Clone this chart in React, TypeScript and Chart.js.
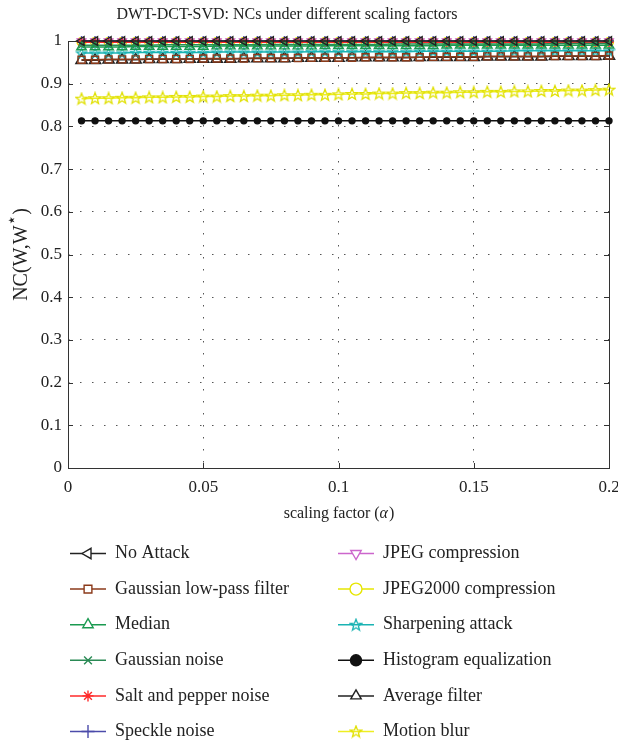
import React, { useEffect, useRef } from 'react';
import { Chart, registerables } from 'chart.js';
import { drawPoint } from 'chart.js/helpers';

Chart.register(...registerables);

const FONT = '"Liberation Serif", "DejaVu Serif", serif';

const chartTitle = 'DWT-DCT-SVD: NCs under different scaling factors';
const xTickValues = [0, 0.05, 0.1, 0.15, 0.2];
const yTickValues = [0, 0.1, 0.2, 0.3, 0.4, 0.5, 0.6, 0.7, 0.8, 0.9, 1];

const alphas = [
  0.005, 0.01, 0.015, 0.02, 0.025, 0.03, 0.035, 0.04, 0.045, 0.05,
  0.055, 0.06, 0.065, 0.07, 0.075, 0.08, 0.085, 0.09, 0.095, 0.1,
  0.105, 0.11, 0.115, 0.12, 0.125, 0.13, 0.135, 0.14, 0.145, 0.15,
  0.155, 0.16, 0.165, 0.17, 0.175, 0.18, 0.185, 0.19, 0.195, 0.2,
];

const noAttack = [
  1, 1, 1, 1, 1, 1, 1, 1, 1, 1, 1, 1, 1, 1, 1, 1, 1, 1, 1, 1,
  1, 1, 1, 1, 1, 1, 1, 1, 1, 1, 1, 1, 1, 1, 1, 1, 1, 1, 1, 1,
];
const gaussianLowPass = [
  0.956, 0.956, 0.957, 0.957, 0.957, 0.958, 0.958, 0.958, 0.958, 0.959,
  0.959, 0.959, 0.959, 0.96, 0.96, 0.96, 0.96, 0.961, 0.961, 0.961,
  0.961, 0.962, 0.962, 0.962, 0.962, 0.962, 0.963, 0.963, 0.963, 0.963,
  0.964, 0.964, 0.964, 0.964, 0.964, 0.965, 0.965, 0.965, 0.965, 0.966,
];
const median = [
  0.986, 0.986, 0.986, 0.986, 0.987, 0.987, 0.987, 0.987, 0.987, 0.987,
  0.988, 0.988, 0.988, 0.988, 0.988, 0.988, 0.988, 0.988, 0.989, 0.989,
  0.989, 0.989, 0.989, 0.989, 0.989, 0.989, 0.989, 0.99, 0.99, 0.99,
  0.99, 0.99, 0.99, 0.99, 0.99, 0.99, 0.99, 0.99, 0.99, 0.99,
];
const gaussianNoise = [
  0.99, 0.99, 0.99, 0.99, 0.99, 0.99, 0.991, 0.991, 0.991, 0.991,
  0.991, 0.991, 0.991, 0.991, 0.992, 0.992, 0.992, 0.992, 0.992, 0.992,
  0.992, 0.992, 0.992, 0.993, 0.993, 0.993, 0.993, 0.993, 0.993, 0.993,
  0.993, 0.993, 0.993, 0.993, 0.993, 0.994, 0.994, 0.994, 0.994, 0.994,
];
const saltPepper = [
  0.997, 0.997, 0.997, 0.997, 0.997, 0.997, 0.997, 0.997, 0.997, 0.997,
  0.997, 0.997, 0.997, 0.997, 0.997, 0.997, 0.997, 0.997, 0.997, 0.997,
  0.997, 0.997, 0.997, 0.997, 0.997, 0.997, 0.997, 0.997, 0.997, 0.997,
  0.997, 0.997, 0.997, 0.997, 0.997, 0.997, 0.997, 0.997, 0.997, 0.997,
];
const speckle = [
  1, 1, 1, 1, 1, 1, 1, 1, 1, 1, 1, 1, 1, 1, 1, 1, 1, 1, 1, 1,
  1, 1, 1, 1, 1, 1, 1, 1, 1, 1, 1, 1, 1, 1, 1, 1, 1, 1, 1, 1,
];
const jpeg = [
  0.999, 0.999, 0.999, 0.999, 0.999, 0.999, 0.999, 0.999, 0.999, 0.999,
  0.999, 0.999, 0.999, 0.999, 0.999, 0.999, 0.999, 0.999, 0.999, 0.999,
  0.999, 0.999, 0.999, 0.999, 0.999, 0.999, 0.999, 0.999, 0.999, 0.999,
  0.999, 0.999, 0.999, 0.999, 0.999, 0.999, 0.999, 0.999, 0.999, 0.999,
];
const jpeg2000 = [
  0.998, 0.998, 0.998, 0.998, 0.998, 0.998, 0.998, 0.998, 0.998, 0.998,
  0.998, 0.998, 0.998, 0.998, 0.998, 0.998, 0.998, 0.998, 0.998, 0.998,
  0.998, 0.998, 0.998, 0.998, 0.998, 0.998, 0.998, 0.998, 0.998, 0.998,
  0.998, 0.998, 0.998, 0.998, 0.998, 0.998, 0.998, 0.998, 0.998, 0.998,
];
const sharpening = [
  0.972, 0.972, 0.972, 0.972, 0.973, 0.973, 0.973, 0.973, 0.973, 0.973,
  0.974, 0.974, 0.974, 0.974, 0.974, 0.974, 0.974, 0.975, 0.975, 0.975,
  0.975, 0.975, 0.975, 0.975, 0.975, 0.976, 0.976, 0.976, 0.976, 0.976,
  0.976, 0.976, 0.977, 0.977, 0.977, 0.977, 0.977, 0.977, 0.977, 0.977,
];
const histogramEq = [
  0.813, 0.813, 0.813, 0.813, 0.813, 0.813, 0.813, 0.813, 0.813, 0.813,
  0.813, 0.813, 0.813, 0.813, 0.813, 0.813, 0.813, 0.813, 0.813, 0.813,
  0.813, 0.813, 0.813, 0.813, 0.813, 0.813, 0.813, 0.813, 0.813, 0.813,
  0.813, 0.813, 0.813, 0.813, 0.813, 0.813, 0.813, 0.813, 0.813, 0.813,
];
const averageFilter = [
  0.955, 0.955, 0.956, 0.956, 0.956, 0.957, 0.957, 0.957, 0.958, 0.958,
  0.958, 0.958, 0.959, 0.959, 0.959, 0.959, 0.96, 0.96, 0.96, 0.96,
  0.961, 0.961, 0.961, 0.961, 0.961, 0.962, 0.962, 0.962, 0.962, 0.962,
  0.963, 0.963, 0.963, 0.963, 0.963, 0.964, 0.964, 0.964, 0.964, 0.965,
];
const motionBlur = [
  0.865, 0.866, 0.866, 0.867, 0.867, 0.868, 0.868, 0.869, 0.869, 0.87,
  0.87, 0.871, 0.871, 0.872, 0.872, 0.873, 0.873, 0.874, 0.874, 0.875,
  0.876, 0.876, 0.877, 0.877, 0.878, 0.878, 0.879, 0.879, 0.88, 0.88,
  0.881, 0.881, 0.882, 0.882, 0.883, 0.883, 0.884, 0.884, 0.885, 0.886,
];

const seriesNames = [
  'No Attack', 'Gaussian low-pass filter', 'Median', 'Gaussian noise',
  'Salt and pepper noise', 'Speckle noise', 'JPEG compression', 'JPEG2000 compression',
  'Sharpening attack', 'Histogram equalization', 'Average filter', 'Motion blur',
];
const seriesValues = [
  noAttack, gaussianLowPass, median, gaussianNoise, saltPepper, speckle,
  jpeg, jpeg2000, sharpening, histogramEq, averageFilter, motionBlur,
];
const seriesColors = [
  '#222222', '#8b3a1a', '#1a9a50', '#2a8a55', '#ff2a2a', '#4b4baa',
  '#cc66cc', '#e6e600', '#1ab3b3', '#111111', '#222222', '#eeee22',
];

function makePentagram(color: string, size: number): HTMLCanvasElement {
  const c = document.createElement('canvas');
  c.width = size;
  c.height = size;
  const g = c.getContext('2d')!;
  const cx = size / 2, cy = size / 2 + 0.5;
  const R = size / 2 - 1, r = R * 0.42;
  g.beginPath();
  for (let k = 0; k < 10; k++) {
    const ang = -Math.PI / 2 + (k * Math.PI) / 5;
    const rad = k % 2 === 0 ? R : r;
    const px = cx + rad * Math.cos(ang), py = cy + rad * Math.sin(ang);
    if (k === 0) g.moveTo(px, py); else g.lineTo(px, py);
  }
  g.closePath();
  g.strokeStyle = color;
  g.lineWidth = 1.3;
  g.stroke();
  return c;
}

export default function App() {
  const ref = useRef<HTMLCanvasElement | null>(null);

  useEffect(() => {
    document.body.style.margin = '0';
    const canvas = ref.current!;

    const starSharp = makePentagram(seriesColors[8], 13);
    const starMotion = makePentagram('#e0e000', 14);
    const starSharpL = makePentagram(seriesColors[8], 14);
    const starMotionL = makePentagram('#e0e000', 14);
    const pointStyles: any[] = [
      'triangle', 'rect', 'triangle', 'crossRot', 'star', 'cross',
      'triangle', 'circle', starSharp, 'circle', 'triangle', starMotion,
    ];
    const legendStyles: any[] = [
      'triangle', 'rect', 'triangle', 'crossRot', 'star', 'cross',
      'triangle', 'circle', starSharpL, 'circle', 'triangle', starMotionL,
    ];
    const rotations = [270, 0, 0, 0, 0, 0, 180, 0, 0, 0, 0, 0];
    const filled = [false, false, false, false, false, false, false, false, false, true, false, false];
    const radii = [5, 5, 5.5, 4.5, 4.5, 5, 5, 4.5, 6, 3, 6.5, 6];
    const legendRadii = [6, 5.5, 6, 5.5, 5.5, 6.5, 6, 6, 6, 5.5, 6, 6];

    const datasets = seriesNames.map((name, i) => ({
      label: name,
      data: alphas.map((a, j) => ({ x: a, y: seriesValues[i][j] })),
      borderColor: seriesColors[i],
      backgroundColor: filled[i] ? seriesColors[i] : 'rgba(0,0,0,0)',
      pointBorderColor: seriesColors[i],
      pointBackgroundColor: filled[i] ? seriesColors[i] : 'rgba(0,0,0,0)',
      pointStyle: pointStyles[i],
      pointRotation: rotations[i],
      pointRadius: radii[i],
      pointBorderWidth: 1.4,
      borderWidth: 1.5,
      clip: false as any,
      tension: 0,
    }));

    const decorPlugin = {
      id: 'decor',
      beforeDatasetsDraw(chart: any) {
        const { ctx, chartArea: a, scales } = chart;
        ctx.save();
        ctx.strokeStyle = '#333';
        ctx.lineWidth = 1;
        ctx.strokeRect(Math.round(a.left) + 0.5, Math.round(a.top) + 0.5, Math.round(a.right - a.left), Math.round(a.bottom - a.top));
        ctx.beginPath();
        const tl = 5;
        xTickValues.forEach((v) => {
          const px = Math.round(scales.x.getPixelForValue(v)) + 0.5;
          ctx.moveTo(px, a.bottom); ctx.lineTo(px, a.bottom - tl);
          ctx.moveTo(px, a.top); ctx.lineTo(px, a.top + tl);
        });
        yTickValues.forEach((v) => {
          const py = Math.round(scales.y.getPixelForValue(v)) + 0.5;
          ctx.moveTo(a.left, py); ctx.lineTo(a.left + tl, py);
          ctx.moveTo(a.right, py); ctx.lineTo(a.right - tl, py);
        });
        ctx.stroke();
        ctx.restore();
      },
      afterDraw(chart: any) {
        const { ctx, chartArea: a } = chart;
        ctx.save();
        ctx.fillStyle = '#222';
        // title
        ctx.font = `16px ${FONT}`;
        ctx.textAlign = 'center';
        ctx.textBaseline = 'middle';
        ctx.fillText(chartTitle, 287, 15);

        // x-axis title with italic alpha
        const xMid = (a.left + a.right) / 2;
        const xy = a.bottom + 46;
        const p1 = 'scaling factor (';
        const p2 = 'α';
        const p3 = ')';
        ctx.font = `16px ${FONT}`;
        const w1 = ctx.measureText(p1).width;
        const w3 = ctx.measureText(p3).width;
        ctx.font = `italic 16px ${FONT}`;
        const w2 = ctx.measureText(p2).width;
        const sx = xMid - (w1 + w2 + w3) / 2;
        ctx.textAlign = 'left';
        ctx.font = `16px ${FONT}`;
        ctx.fillText(p1, sx, xy);
        ctx.font = `italic 16px ${FONT}`;
        ctx.fillText(p2, sx + w1, xy);
        ctx.font = `16px ${FONT}`;
        ctx.fillText(p3, sx + w1 + w2 + 1, xy);

        // y-axis title with superscript star
        ctx.save();
        ctx.translate(22, (a.top + a.bottom) / 2);
        ctx.rotate(-Math.PI / 2);
        const q1 = 'NC(W,W';
        const q2 = '⋆';
        const q3 = ')';
        ctx.font = `20px ${FONT}`;
        const v1 = ctx.measureText(q1).width;
        const v3 = ctx.measureText(q3).width;
        ctx.font = `17px "DejaVu Sans", sans-serif`;
        const v2 = ctx.measureText(q2).width;
        const sy = -(v1 + v2 + v3) / 2;
        ctx.font = `20px ${FONT}`;
        ctx.fillText(q1, sy, 0);
        ctx.font = `17px "DejaVu Sans", sans-serif`;
        ctx.fillText(q2, sy + v1, -9);
        ctx.font = `20px ${FONT}`;
        ctx.fillText(q3, sy + v1 + v2, 0);
        ctx.restore();

        // legend
        const rowH = 35.6;
        const top0 = a.bottom + 85.5;
        chart.data.datasets.forEach((ds: any, i: number) => {
          const col = i < 6 ? 0 : 1;
          const row = i % 6;
          const lx = col === 0 ? a.left + 2 : a.left + 270;
          const ly = top0 + row * rowH;
          ctx.strokeStyle = ds.borderColor;
          ctx.lineWidth = 1.5;
          ctx.beginPath();
          ctx.moveTo(lx, ly);
          ctx.lineTo(lx + 36, ly);
          ctx.stroke();
          ctx.fillStyle = filled[i] ? ds.pointBackgroundColor : '#ffffff';
          ctx.strokeStyle = ds.pointBorderColor;
          ctx.lineWidth = 1.4;
          drawPoint(ctx, { pointStyle: legendStyles[i], rotation: ds.pointRotation, radius: legendRadii[i], borderWidth: 1.4 }, lx + 18, ly);
          ctx.fillStyle = '#222';
          ctx.font = `18px ${FONT}`;
          ctx.textAlign = 'left';
          ctx.textBaseline = 'middle';
          ctx.fillText(ds.label, lx + 45, ly);
        });
        ctx.restore();
      },
    };

    const chart = new Chart(canvas, {
      type: 'line',
      data: { datasets },
      options: {
        animation: false,
        responsive: false,
        layout: { padding: { top: 41, right: 9, bottom: 214, left: 0 } },
        plugins: { legend: { display: false }, title: { display: false }, tooltip: { enabled: false } },
        scales: {
          x: {
            type: 'linear',
            min: 0,
            max: 0.2,
            afterFit: (s: any) => { s.height = 60; s.paddingLeft = 0; s.paddingRight = 0; },
            afterBuildTicks: (s: any) => { s.ticks = xTickValues.map((v) => ({ value: v })); },
            ticks: {
              color: '#222',
              font: { family: FONT, size: 17 },
              padding: 9,
              maxRotation: 0,
              callback: (v: any) => String(Number(Number(v).toFixed(3))),
            },
            grid: { color: '#555', lineWidth: 1, drawTicks: false },
            border: { display: false, dash: [1.5, 10.5] },
          },
          y: {
            type: 'linear',
            min: 0,
            max: 1,
            afterFit: (s: any) => { s.width = 68; },
            afterBuildTicks: (s: any) => { s.ticks = yTickValues.map((v) => ({ value: v })); },
            ticks: {
              color: '#222',
              font: { family: FONT, size: 17 },
              padding: 6,
              callback: (v: any) => String(Number(Number(v).toFixed(2))),
            },
            grid: { color: '#555', lineWidth: 1, drawTicks: false },
            border: { display: false, dash: [1.5, 10.5] },
          },
        },
      } as any,
      plugins: [decorPlugin],
    });

    return () => chart.destroy();
  }, []);

  return <canvas ref={ref} width={618} height={742} style={{ display: 'block' }} />;
}
